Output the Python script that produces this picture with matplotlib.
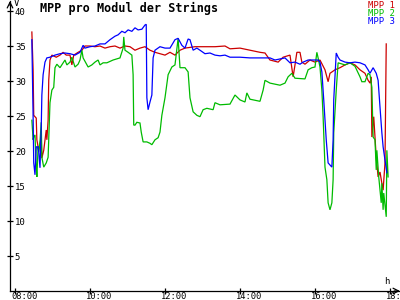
import matplotlib
matplotlib.use('Agg')
import numpy as np
import matplotlib.pyplot as plt
from matplotlib.transforms import ScaledTranslation

# MPP 1 (red)
mpp1_time = ['08:27', '08:29', '08:30', '08:34', '08:35', '08:38', '08:42', '08:43', '08:46', '08:50',
             '08:51', '08:53', '08:54', '08:56', '08:59', '09:06', '09:12', '09:17', '09:22', '09:28',
             '09:31', '09:34', '09:41', '09:47', '09:52', '10:00', '10:08', '10:16', '10:24', '10:32',
             '10:40', '10:48', '10:56', '11:04', '11:12', '11:20', '11:28', '11:36', '11:44', '11:52',
             '12:00', '12:08', '12:16', '12:24', '12:32', '12:48', '13:04', '13:20', '13:36', '13:44',
             '14:00', '14:16', '14:32', '14:40', '14:48', '15:01', '15:09', '15:20', '15:25', '15:28',
             '15:31', '15:36', '15:39', '15:44', '15:52', '16:00', '16:08', '16:16', '16:21', '16:24',
             '16:32', '16:40', '16:48', '16:56', '17:04', '17:12', '17:20', '17:25', '17:28', '17:30',
             '17:31', '17:34', '17:38', '17:41', '17:44', '17:47', '17:49', '17:52', '17:54']
mpp1_volt = [37.0, 31.6, 25.1, 24.7, 21.6, 20.1, 22.0, 19.0, 20.1, 23.0,
             21.6, 24.4, 30.1, 33.0, 33.7, 33.4, 33.7, 34.1, 33.7, 33.7,
             32.3, 33.7, 34.1, 34.4, 35.0, 35.0, 34.9, 35.0, 34.7, 34.9,
             35.0, 34.7, 35.0, 34.9, 34.4, 34.7, 34.9, 34.4, 34.1, 33.9,
             33.7, 34.1, 33.7, 34.4, 34.7, 34.9, 34.9, 34.9, 35.0, 34.6,
             34.7, 34.4, 34.1, 34.0, 33.0, 32.7, 33.4, 33.7, 30.6, 32.3,
             34.1, 34.1, 32.7, 32.4, 33.0, 32.7, 33.0, 31.6, 29.9, 31.1,
             31.6, 31.9, 32.3, 32.6, 32.3, 31.6, 31.1, 30.1, 29.7, 30.6,
             22.0, 24.9, 19.1, 16.3, 17.0, 15.4, 14.4, 18.3, 35.3]

# MPP 2 (green)
mpp2_time = ['08:27', '08:29', '08:30', '08:32', '08:34', '08:35', '08:37', '08:38', '08:40', '08:42',
             '08:43', '08:46', '08:50', '08:53', '08:54', '08:56', '08:59', '09:02', '09:04', '09:07',
             '09:12', '09:17', '09:20', '09:23', '09:28', '09:31', '09:36', '09:41', '09:44', '09:47',
             '09:49', '09:57', '10:03', '10:08', '10:13', '10:16', '10:21', '10:27', '10:37', '10:48',
             '10:53', '10:54', '10:56', '11:01', '11:07', '11:09', '11:10', '11:12', '11:15', '11:20',
             '11:22', '11:25', '11:31', '11:36', '11:39', '11:44', '11:49', '11:52', '11:55', '12:00',
             '12:05', '12:11', '12:16', '12:21', '12:24', '12:32', '12:37', '12:40', '12:45', '12:51',
             '12:56', '13:01', '13:07', '13:17', '13:20', '13:28', '13:44', '13:52', '14:00', '14:08',
             '14:11', '14:16', '14:32', '14:37', '14:40', '14:48', '15:04', '15:12', '15:17', '15:23',
             '15:28', '15:44', '15:49', '15:55', '16:00', '16:03', '16:05', '16:08', '16:11', '16:13',
             '16:16', '16:19', '16:21', '16:24', '16:27', '16:29', '16:30', '16:34', '16:37', '16:48',
             '16:56', '17:04', '17:12', '17:15', '17:20', '17:23', '17:25', '17:28', '17:31', '17:33',
             '17:36', '17:38', '17:39', '17:42', '17:44', '17:46', '17:47', '17:49', '17:50', '17:54',
             '17:55', '17:57']
mpp2_volt = [24.4, 21.6, 22.0, 22.3, 17.7, 16.3, 20.6, 19.9, 21.3, 24.1,
             19.1, 17.7, 18.3, 19.1, 21.6, 26.9, 28.7, 29.1, 31.9, 32.4,
             31.9, 32.6, 33.0, 32.3, 32.7, 33.4, 32.0, 32.4, 33.0, 34.4,
             33.3, 32.0, 32.3, 32.7, 33.0, 32.3, 32.6, 32.6, 33.0, 33.3,
             34.7, 36.3, 34.4, 34.1, 33.7, 30.9, 23.7, 23.7, 24.1, 24.0,
             22.7, 21.3, 21.3, 21.1, 20.9, 21.6, 21.9, 22.7, 25.1, 27.6,
             30.9, 32.0, 32.3, 36.1, 31.9, 31.9, 31.3, 27.6, 25.6, 25.1,
             24.9, 25.9, 26.1, 25.9, 26.9, 26.6, 26.7, 28.0, 27.3, 27.0,
             28.3, 27.4, 27.1, 28.7, 30.1, 29.7, 29.4, 29.7, 30.6, 31.1,
             30.4, 30.3, 31.6, 31.9, 32.0, 34.1, 33.3, 32.0, 28.7, 24.9,
             17.7, 15.9, 12.6, 11.6, 12.6, 15.9, 22.6, 28.7, 32.6, 32.3,
             32.6, 32.1, 30.6, 29.9, 29.9, 30.6, 31.1, 30.9, 29.1, 22.0,
             21.6, 17.3, 20.1, 16.3, 14.4, 12.6, 15.4, 11.6, 14.0, 10.6,
             20.1, 16.3]

# MPP 3 (blue)
mpp3_time = ['08:27', '08:29', '08:30', '08:32', '08:34', '08:37', '08:38', '08:40', '08:42', '08:43',
             '08:45', '08:48', '08:51', '08:56', '09:04', '09:12', '09:20', '09:28', '09:36', '09:44',
             '09:49', '09:52', '10:00', '10:08', '10:16', '10:24', '10:32', '10:40', '10:45', '10:51',
             '10:56', '11:01', '11:07', '11:12', '11:17', '11:23', '11:28', '11:30', '11:31', '11:33',
             '11:36', '11:39', '11:41', '11:44', '11:52', '12:00', '12:08', '12:16', '12:21', '12:27',
             '12:32', '12:37', '12:40', '12:45', '12:51', '12:56', '13:04', '13:12', '13:20', '13:28',
             '13:36', '13:44', '14:00', '14:16', '14:32', '14:48', '14:56', '15:12', '15:20', '15:28',
             '15:36', '15:41', '15:49', '16:05', '16:08', '16:11', '16:14', '16:18', '16:21', '16:24',
             '16:27', '16:29', '16:30', '16:34', '16:37', '16:40', '16:48', '16:56', '17:04', '17:12',
             '17:20', '17:25', '17:28', '17:33', '17:38', '17:41', '17:44', '17:47', '17:49', '17:52',
             '17:55']
mpp3_volt = [35.9, 24.9, 18.3, 16.6, 20.6, 20.6, 19.9, 17.6, 23.4, 28.0,
             30.9, 32.7, 33.3, 33.4, 33.7, 33.9, 34.0, 33.9, 33.7, 34.1,
             35.1, 34.7, 34.9, 35.0, 35.3, 35.3, 35.9, 36.4, 36.6, 37.1,
             36.9, 37.3, 37.1, 37.6, 37.3, 37.4, 38.0, 38.1, 27.6, 25.9,
             27.0, 28.0, 33.3, 34.4, 34.9, 34.7, 34.7, 35.9, 36.1, 35.1,
             34.7, 36.0, 35.9, 34.4, 34.7, 34.4, 33.9, 34.0, 33.7, 33.6,
             33.7, 33.4, 33.4, 33.3, 33.3, 33.3, 33.0, 33.3, 32.6, 32.7,
             32.4, 32.7, 33.0, 33.0, 32.7, 31.3, 27.3, 21.6, 18.3, 18.0,
             17.7, 21.6, 27.3, 34.0, 33.4, 33.0, 32.7, 32.6, 32.7, 32.6,
             32.3, 31.6, 31.1, 31.9, 31.1, 30.1, 26.3, 22.6, 20.6, 18.7,
             16.9]

series_names = ['MPP 1', 'MPP 2', 'MPP 3']
series_colors = ['#cc0000', '#00bb00', '#0000ff']
hour_ticks = [8, 10, 12, 14, 16, 18]
hour_labels = ['08:00', '10:00', '12:00', '14:00', '16:00', '18:00']
volt_ticks = [5, 10, 15, 20, 25, 30, 35, 40]

MONO = 'DejaVu Sans Mono'


def to_hours(times):
    return np.array([int(t[:2]) + int(t[3:]) / 60 for t in times])


fig = plt.figure(figsize=(4, 3), dpi=100)
ax = fig.add_axes([10 / 400, 9 / 300, 390 / 400, 290 / 300])
ax.set_xlim(7.867, 18.267)
ax.set_ylim(0, 41.43)

data = [(mpp1_time, mpp1_volt), (mpp2_time, mpp2_volt), (mpp3_time, mpp3_volt)]
for (t, v), col in zip(data, series_colors):
    ax.plot(to_hours(t), v, color=col, lw=0.9, solid_joinstyle='miter')

for side in ['top', 'right']:
    ax.spines[side].set_visible(False)
for side in ['left', 'bottom']:
    ax.spines[side].set_linewidth(0.9)

ax.set_xticks(hour_ticks)
ax.set_xticklabels(hour_labels, fontsize=6.3, family=MONO)
ax.tick_params(axis='x', direction='inout', length=5, width=0.9, pad=0)
# labels sit a bit left of their tick and just under the axis line
shift = ScaledTranslation(-4 / 100, 2.5 / 100, fig.dpi_scale_trans)
for lab in ax.get_xticklabels():
    lab.set_ha('left')
    lab.set_transform(lab.get_transform() + shift)

ax.set_yticks(volt_ticks)
ax.set_yticklabels([str(v) for v in volt_ticks], fontsize=6.5, family=MONO)
ax.tick_params(axis='y', direction='inout', length=5, width=0.9, pad=-6)
for lab in ax.get_yticklabels():
    lab.set_ha('left')

# axis arrows
ax.annotate('', xy=(1.0, 0), xytext=(0.985, 0), xycoords='axes fraction',
            arrowprops=dict(arrowstyle='->', lw=0.9, color='black', shrinkA=0, shrinkB=0))
ax.annotate('', xy=(0, 1.0), xytext=(0, 0.985), xycoords='axes fraction',
            arrowprops=dict(arrowstyle='->', lw=0.9, color='black', shrinkA=0, shrinkB=0))

fig.text(40 / 400, 1 - 8 / 300, 'MPP pro Modul der Strings', fontsize=8.5, fontweight='bold',
         family=MONO, va='center', ha='left')
fig.text(16 / 400, 1 - 4 / 300, 'V', fontsize=6.5, family=MONO, va='center', ha='center')
fig.text(387 / 400, 1 - 281 / 300, 'h', fontsize=6.5, family=MONO, va='center', ha='center')

for i, (name, col) in enumerate(zip(series_names, series_colors)):
    fig.text(395 / 400, 1 - (5 + 8 * i) / 300, name, color=col, fontsize=6.5,
             family=MONO, va='center', ha='right')

fig.savefig('out.png', dpi=100, facecolor='white')
